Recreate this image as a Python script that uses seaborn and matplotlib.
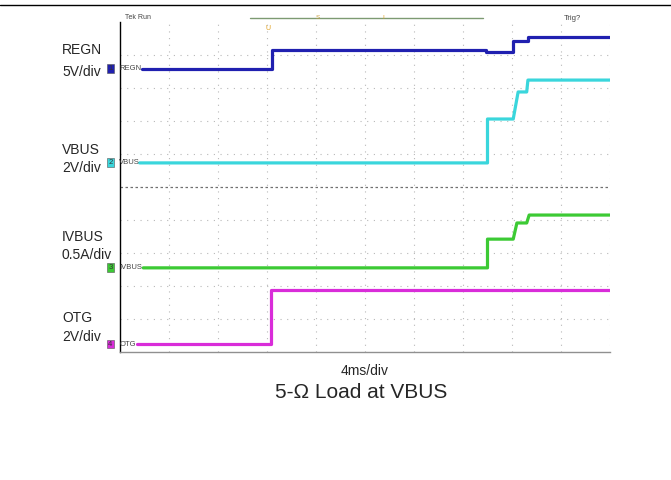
import numpy as np
import pandas as pd
import seaborn as sns
from matplotlib import pyplot as plt
from matplotlib import lines as mlines

# scope traces: time in ms (4 ms/div), level in screen divisions (0 = bottom)
regn_t = [1.8, 12.4, 12.4, 29.9, 29.9, 32.1, 32.1, 33.3, 33.3, 40.0]
regn_v = [8.58, 8.58, 9.15, 9.15, 9.09, 9.09, 9.42, 9.42, 9.55, 9.55]

vbus_t = [1.6, 30.0, 30.0, 32.1, 32.5, 33.2, 33.3, 40.0]
vbus_v = [5.73, 5.73, 7.06, 7.06, 7.88, 7.88, 8.24, 8.24]

ivbus_t = [1.9, 30.0, 30.0, 32.1, 32.4, 33.2, 33.4, 40.0]
ivbus_v = [2.55, 2.55, 3.42, 3.42, 3.91, 3.91, 4.15, 4.15]

otg_t = [1.4, 12.3, 12.3, 40.0]
otg_v = [0.24, 0.24, 1.88, 1.88]

channels = ['REGN', 'VBUS', 'IVBUS', 'OTG']
chan_num = ['1', '2', '3', '4']
scales = ['5V/div', '2V/div', '0.5A/div', '2V/div']
colors = {'REGN': '#2020b0', 'VBUS': '#3ad6dc', 'IVBUS': '#3cca34', 'OTG': '#d92cd9'}

frames = []
for name, t, v in zip(channels, [regn_t, vbus_t, ivbus_t, otg_t],
                      [regn_v, vbus_v, ivbus_v, otg_v]):
    frames.append(pd.DataFrame({'t': t, 'v': v, 'ch': name, 'order': np.arange(len(t))}))
df = pd.concat(frames, ignore_index=True)

sns.set_style('white')
plt.rcParams['font.family'] = ['Liberation Sans', 'DejaVu Sans']

fig = plt.figure(figsize=(6.71, 4.8), dpi=100)
W, H = 671.0, 480.0
ax = fig.add_axes([120 / W, 1 - 352 / H, 490 / W, 330 / H])

# graticule
for xd in range(1, 11):
    ax.axvline(xd * 4, color='#b8b8b8', lw=0.8, ls=(0, (1, 5)), zorder=0)
for yd in range(1, 10):
    if yd == 5:
        ax.axhline(yd, color='#707070', lw=0.9, ls=(0, (2, 2)), zorder=0)
    else:
        ax.axhline(yd, color='#b8b8b8', lw=0.8, ls=(0, (1, 5)), zorder=0)

sns.lineplot(data=df, x='t', y='v', hue='ch', palette=colors, estimator=None,
             sort=False, units='ch', lw=2.3, legend=False, ax=ax)

ax.set_xlim(0, 40)
ax.set_ylim(0, 10)
ax.set_xticks([])
ax.set_yticks([])
ax.set_xlabel('')
ax.set_ylabel('')
for s in ['top', 'right']:
    ax.spines[s].set_visible(False)
ax.spines['left'].set_color('black')
ax.spines['left'].set_linewidth(1.0)
ax.spines['bottom'].set_color('#909090')
ax.spines['bottom'].set_linewidth(1.0)

# channel tags at trace start
for name, num, v in zip(channels, chan_num, [regn_v, vbus_v, ivbus_v, otg_v]):
    ax.text(-0.95, v[0], num, fontsize=5.5, color='#333333', va='center', ha='left',
            clip_on=False, bbox=dict(boxstyle='square,pad=0.12', fc=colors[name], ec='#555555', lw=0.4))
    ax.text(-0.05, v[0], name, fontsize=5.5, color='#444444', va='center', ha='left', clip_on=False)

# scope header
ax.text(0.01, 1.015, 'Tek Run', transform=ax.transAxes, fontsize=5, color='#444444', va='center')
ax.text(0.905, 1.012, 'Trig?', transform=ax.transAxes, fontsize=5.5, color='#444444', va='center')
ax.add_line(mlines.Line2D([130 / 490, 363 / 490], [1.012, 1.012], transform=ax.transAxes,
                          color='#7d9a72', lw=1.0, clip_on=False))
ax.text(148 / 490, 0.98, 'U', transform=ax.transAxes, fontsize=5, color='#e0a020', ha='center', va='center')
ax.text(198 / 490, 1.014, 'S', transform=ax.transAxes, fontsize=4.5, color='#c8a040', ha='center', va='center')
ax.text(263 / 490, 1.014, 'I', transform=ax.transAxes, fontsize=4.5, color='#e0a020', ha='center', va='center')

# left channel labels
label_y = [(50, 72), (150, 168), (237, 255), (318, 337)]
for name, sc, (y1, y2) in zip(channels, scales, label_y):
    fig.text(62 / W, 1 - y1 / H, name, fontsize=10, ha='left', va='center')
    fig.text(62 / W, 1 - y2 / H, sc, fontsize=10, ha='left', va='center')

fig.text(365 / W, 1 - 371 / H, '4ms/div', fontsize=10, ha='center', va='center')
fig.text(361 / W, 1 - 393 / H, '5-Ω Load at VBUS', fontsize=15, ha='center', va='center')

fig.add_artist(mlines.Line2D([0, 1], [1 - 5 / H, 1 - 5 / H], color='black', lw=1.0))

fig.savefig('out.png', dpi=100)
